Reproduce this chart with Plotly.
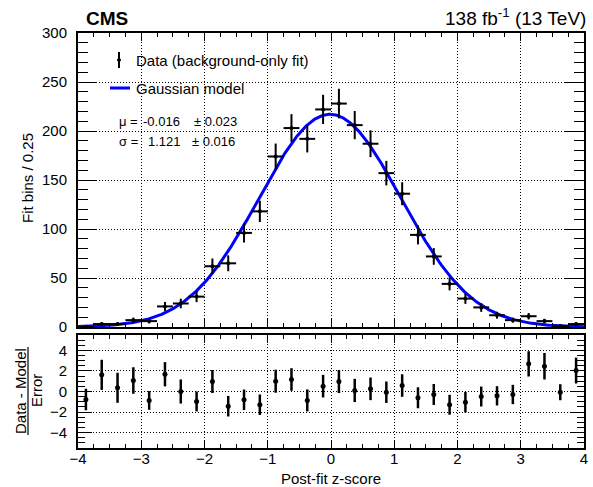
import numpy as np
import plotly.graph_objects as go

# ---------------- data ----------------
bin_centers = [-3.875, -3.625, -3.375, -3.125, -2.875, -2.625, -2.375, -2.125,
               -1.875, -1.625, -1.375, -1.125, -0.875, -0.625, -0.375, -0.125,
               0.125, 0.375, 0.625, 0.875, 1.125, 1.375, 1.625, 1.875,
               2.125, 2.375, 2.625, 2.875, 3.125, 3.375, 3.625, 3.875]
bin_half_width = 0.125

counts = [0, 3, 3, 7, 6, 21, 24, 31,
          62, 65, 96, 118, 174, 203, 192, 222,
          228, 206, 187, 157, 136, 94, 72, 44,
          29, 20, 12, 7, 11, 6, 1, 3]
count_err = [0.7, 1.7, 1.7, 2.6, 2.4, 4.6, 4.9, 5.6,
             7.9, 8.1, 9.8, 10.9, 13.2, 14.2, 13.9, 14.9,
             15.1, 14.4, 13.7, 12.5, 11.7, 9.7, 8.5, 6.6,
             5.4, 4.5, 3.5, 2.6, 3.3, 2.4, 1.0, 1.7]

pulls = [-0.78, 1.62, 0.36, 1.07, -0.87, 1.68, 0.0, -0.97,
         0.97, -1.43, -0.81, -1.29, 1.0, 1.17, -0.87, 0.52,
         0.97, 0.10, 0.26, -0.07, 0.58, -0.61, -0.29, -1.29,
         -1.04, -0.49, -0.42, -0.29, 2.69, 2.46, -0.07, 2.04]
pull_err = [1.05, 1.47, 1.46, 1.29, 0.91, 1.18, 1.17, 0.97,
            1.12, 1.0, 1.0, 1.0, 1.12, 1.1, 1.07, 1.1,
            1.12, 1.13, 1.1, 1.04, 1.1, 1.02, 1.02, 0.97,
            1.0, 0.97, 0.94, 0.94, 1.23, 1.29, 0.78, 1.26]

# Gaussian model parameters
mu, mu_err = -0.016, 0.023
sigma, sigma_err = 1.121, 0.016
model_peak = 217.0

x_ticks = [-4, -3, -2, -1, 0, 1, 2, 3, 4]
x_ticktext = ["\u22124", "\u22123", "\u22122", "\u22121", "0", "1", "2", "3", "4"]
y_ticks_main = [0, 50, 100, 150, 200, 250, 300]
y_ticks_ratio = [-4, -2, 0, 2, 4]
y_ticktext_ratio = ["\u22124", "\u22122", "0", "2", "4"]

FONT = "Liberation Sans, Arial, Helvetica, sans-serif"

xc = np.linspace(-4, 4, 600)
yc = model_peak * np.exp(-0.5 * ((xc - mu) / sigma) ** 2)

fig = go.Figure()

fig.add_trace(go.Scatter(
    x=xc, y=yc, mode="lines", line=dict(color="#0000ff", width=3),
    xaxis="x", yaxis="y", showlegend=False, hoverinfo="skip"))

fig.add_trace(go.Scatter(
    x=bin_centers, y=counts, mode="markers",
    marker=dict(color="black", size=4),
    error_y=dict(type="data", array=count_err, color="black", thickness=2, width=0),
    error_x=dict(type="constant", value=bin_half_width, color="black", thickness=2, width=0),
    xaxis="x", yaxis="y", showlegend=False))

fig.add_trace(go.Scatter(
    x=bin_centers, y=pulls, mode="markers",
    marker=dict(color="black", size=5),
    error_y=dict(type="data", array=pull_err, color="black", thickness=2.5, width=0),
    xaxis="x2", yaxis="y2", showlegend=False))

axis_common = dict(
    showline=True, linecolor="black", linewidth=2, mirror="ticks",
    ticks="inside", tickcolor="black", tickwidth=1,
    showgrid=True, gridcolor="black", griddash="1px,2px", gridwidth=1,
    zeroline=False,
    tickfont=dict(family=FONT, size=15, color="black"),
)

# plot-area pixel frame
L, R, T, B = 78, 584, 33, 448
main_bottom = (B - 327) / (B - T)
ratio_top = (B - 335) / (B - T)

fig.update_layout(
    width=593, height=487,
    margin=dict(l=L, r=593 - R, t=T, b=487 - B, autoexpand=False),
    paper_bgcolor="white", plot_bgcolor="white",
    font=dict(family=FONT, color="black"),
    xaxis=dict(axis_common, range=[-4, 4], domain=[0, 1], anchor="y",
               tickvals=x_ticks, showticklabels=False, ticklen=8,
               minor=dict(ticks="inside", dtick=0.25, tick0=-4, ticklen=4,
                          tickcolor="black", showgrid=False)),
    yaxis=dict(axis_common, range=[0, 300], domain=[main_bottom, 1], anchor="x",
               tickvals=y_ticks_main, ticklen=19, ticklabelstandoff=6,
               minor=dict(ticks="inside", dtick=10, tick0=0, ticklen=10,
                          tickcolor="black", showgrid=False)),
    xaxis2=dict(axis_common, range=[-4, 4], domain=[0, 1], anchor="y2",
                tickvals=x_ticks, ticktext=x_ticktext,
                ticklen=8, ticklabelstandoff=-4,
                minor=dict(ticks="inside", dtick=0.25, tick0=-4, ticklen=4,
                           tickcolor="black", showgrid=False)),
    yaxis2=dict(axis_common, range=[-5.5, 5.5], domain=[0, ratio_top], anchor="x2",
                tickvals=y_ticks_ratio, ticktext=y_ticktext_ratio,
                ticklen=14, ticklabelstandoff=6,
                minor=dict(ticks="inside", dtick=0.5, tick0=0, ticklen=7,
                           tickcolor="black", showgrid=False)),
)

def qx(x):
    return (x - L) / (R - L)

def qy(y):
    return (B - y) / (B - T)

ann = []
def add(text, x, y, size, xanchor="left", angle=0):
    ann.append(dict(text=text, x=qx(x), y=qy(y), xanchor=xanchor, yanchor="middle",
                    textangle=angle, xref="paper", yref="paper", showarrow=False,
                    font=dict(family=FONT, size=size, color="black")))

add("<b>CMS</b>", 84, 18, 19)
add("138 fb<sup>-1</sup> (13 TeV)", 588, 17, 19, xanchor="right")
add("Fit bins / 0.25", 27, 178, 15, xanchor="center", angle=-90)
add("Data - Model", 20, 391, 15, xanchor="center", angle=-90)
add("Error", 36, 391, 15, xanchor="center", angle=-90)
add("Post-fit z-score", 331, 478, 15, xanchor="center")
# legend
add("Data (background-only fit)", 134, 60, 15)
add("Gaussian model", 134, 89, 15)
# fit parameters
add("\u03bc =", 117, 121, 13)
add("-0.016", 141, 121, 13)
add("\u00b1 0.023", 192, 121, 13)
add("\u03c3 =", 117, 141, 13)
add("1.121", 146, 141, 13)
add("\u00b1 0.016", 190, 141, 13)
fig.update_layout(annotations=ann)

shapes = [
    # fraction line
    dict(type="line", x0=qx(28), x1=qx(28), y0=qy(347), y1=qy(435),
         line=dict(color="black", width=1.2)),
    # legend data symbol
    dict(type="line", x0=qx(119), x1=qx(119), y0=qy(52), y1=qy(68),
         line=dict(color="black", width=2)),
    dict(type="circle", x0=qx(117.5), x1=qx(120.5), y0=qy(58.5), y1=qy(61.5),
         fillcolor="black", line=dict(color="black", width=1)),
    # legend model line
    dict(type="line", x0=qx(110), x1=qx(130), y0=qy(88), y1=qy(88),
         line=dict(color="#0000ff", width=3)),
]
for s in shapes:
    s.update(xref="paper", yref="paper")
fig.update_layout(shapes=shapes)

fig.write_html("out.html")
